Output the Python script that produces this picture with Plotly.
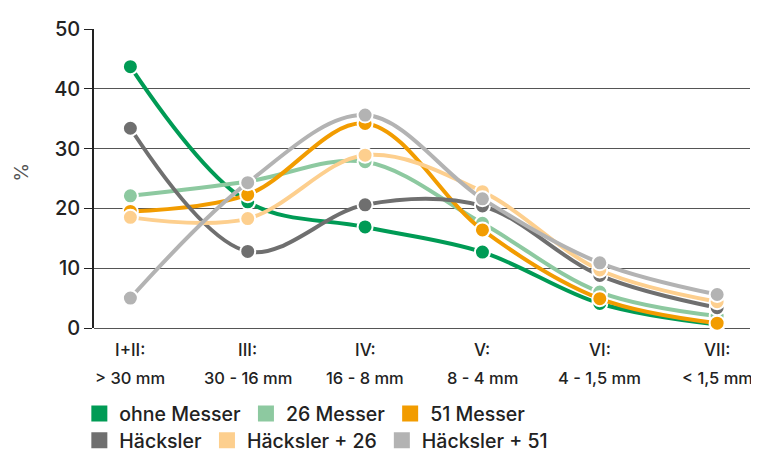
import plotly.graph_objects as go

categories = ["I+II", "III", "IV", "V", "VI", "VII"]
cat_line1 = ["I+II:", "III:", "IV:", "V:", "VI:", "VII:"]
cat_line2 = ["> 30 mm", "30 - 16 mm", "16 - 8 mm", "8 - 4 mm", "4 - 1,5 mm", "< 1,5 mm"]

ohne_messer = [43.7, 21.1, 16.9, 12.7, 4.1, 0.6]
messer_26 = [22.1, 24.5, 27.8, 17.5, 6.0, 2.0]
messer_51 = [19.5, 22.3, 34.2, 16.4, 4.9, 0.8]
haecksler = [33.4, 12.8, 20.6, 20.4, 8.8, 3.4]
haecksler_26 = [18.5, 18.3, 28.9, 22.8, 9.7, 4.4]
haecksler_51 = [5.0, 24.3, 35.6, 21.6, 10.9, 5.6]

series = [
    ("ohne Messer", ohne_messer, "#009b55", "legend"),
    ("26 Messer", messer_26, "#8dc9a0", "legend"),
    ("51 Messer", messer_51, "#f29c00", "legend"),
    ("Häcksler", haecksler, "#6f6f6f", "legend2"),
    ("Häcksler + 26", haecksler_26, "#fdcf8e", "legend2"),
    ("Häcksler + 51", haecksler_51, "#b3b3b3", "legend2"),
]

FONT = "Inter"
WT = 500
W, H = 751, 446  # page body adds an 8px margin
fig = go.Figure()
for name, vals, color, lg in series:
    fig.add_trace(go.Scatter(
        x=categories, y=vals, mode="lines+markers", name=name,
        line=dict(color=color, width=4, shape="spline", smoothing=1),
        marker=dict(color=color, size=15, line=dict(color="white", width=2)),
        cliponaxis=False, showlegend=False,
    ))
for name, vals, color, lg in series:
    fig.add_trace(go.Scatter(
        x=[None], y=[None], mode="markers", name=name, legend=lg,
        marker=dict(color=color, size=16, symbol="square"),
        showlegend=True,
    ))

annotations = []
for c, l1, l2 in zip(categories, cat_line1, cat_line2):
    annotations.append(dict(x=c, xref="x", y=0, yref="paper", yshift=-22, text=l1,
                            showarrow=False, yanchor="middle",
                            font=dict(family=FONT, size=17, color="#222", weight=WT)))
    annotations.append(dict(x=c, xref="x", y=0, yref="paper", yshift=-50, text=l2,
                            showarrow=False, yanchor="middle",
                            font=dict(family=FONT, size=16.5, color="#222", weight=WT)))
annotations.append(dict(x=15 / W, xref="paper", y=0.5, yref="paper", xanchor="center",
                        xshift=-86, text="%", textangle=-90, showarrow=False,
                        yanchor="middle", yshift=6,
                        font=dict(family=FONT, size=19, color="#555")))

fig.update_layout(
    width=W, height=H,
    margin=dict(l=86, r=9, t=12, b=126),
    paper_bgcolor="white", plot_bgcolor="white",
    font=dict(family=FONT, size=17, color="#222"),
    annotations=annotations,
    xaxis=dict(range=[-0.31, 5.28], showticklabels=False, showgrid=False,
               zeroline=False, showline=False, ticks=""),
    yaxis=dict(range=[0, 50], dtick=10, showgrid=True, gridcolor="#555", gridwidth=1,
               zeroline=True, zerolinecolor="#555", zerolinewidth=1,
               showline=True, linecolor="#222", linewidth=1.5,
               ticks="outside", ticklen=8, tickcolor="#222",
               tickfont=dict(family=FONT, size=20, color="#222", weight=WT)),
    legend=dict(orientation="h", xref="container", yref="container", x=0.095, y=0.09,
                xanchor="left", yanchor="middle",
                font=dict(family=FONT, size=19.5, color="#222", weight=WT),
                bgcolor="rgba(0,0,0,0)", itemwidth=30, tracegroupgap=0),
    legend2=dict(orientation="h", xref="container", yref="container", x=0.095, y=0.03,
                 xanchor="left", yanchor="middle",
                 font=dict(family=FONT, size=19.5, color="#222", weight=WT),
                 bgcolor="rgba(0,0,0,0)", itemwidth=30, tracegroupgap=0),
    showlegend=True,
)

fig.write_html("out.html")
